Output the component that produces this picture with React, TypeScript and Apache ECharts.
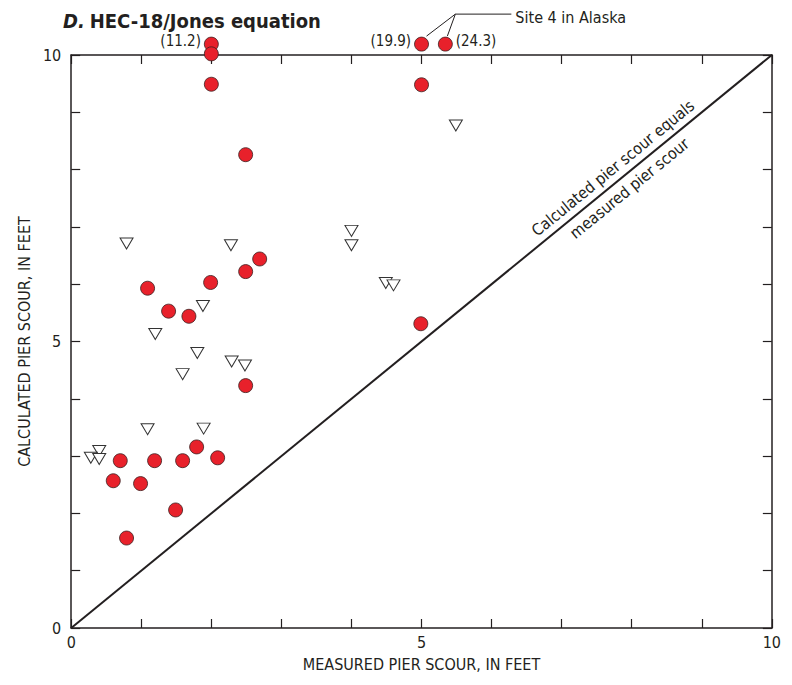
import React, { useEffect, useRef } from "react";
import * as echarts from "echarts";

// Red circles (measured, calculated); values above 10 drawn at the top edge
const circleX = [2.0, 2.0, 2.0, 5.0, 5.34, 5.0, 2.49, 1.09, 1.39, 1.68, 1.99, 2.49, 2.69, 2.49, 4.99, 0.7, 0.6, 0.99, 1.19, 1.59, 1.79, 2.09, 1.49, 0.79];
const circleY = [10.19, 10.02, 9.49, 10.19, 10.19, 9.48, 8.26, 5.93, 5.53, 5.44, 6.03, 6.22, 6.44, 4.23, 5.31, 2.92, 2.57, 2.52, 2.92, 2.92, 3.16, 2.97, 2.06, 1.57];
const circleLabels = ["(11.2)", "", "", "(19.9)", "(24.3)", "", "", "", "", "", "", "", "", "", "", "", "", "", "", "", "", "", "", ""];

// Open inverted triangles
const triX = [0.79, 2.28, 1.88, 1.2, 1.8, 2.29, 2.48, 1.59, 1.09, 1.89, 0.4, 0.28, 0.4, 4.0, 4.0, 4.49, 4.6, 5.49];
const triY = [6.71, 6.68, 5.62, 5.13, 4.8, 4.65, 4.58, 4.43, 3.47, 3.48, 3.09, 2.97, 2.95, 6.93, 6.68, 6.02, 5.98, 8.77];

const equalLine = [[0, 0], [10, 10]];
const axisTickLabels = [0, 5, 10];

const FONT = "'DejaVu Sans Condensed', 'Liberation Sans Narrow', 'Liberation Sans', sans-serif";
const TXT = "#231f20";

export default function App() {
  const ref = useRef<HTMLDivElement>(null);
  useEffect(() => {
    if (!ref.current) return;
    const chart = echarts.init(ref.current, undefined, { renderer: "svg" });
    const axisCommon = {
      type: "value",
      min: 0,
      max: 10,
      interval: 1,
      axisLine: { show: true, onZero: false, lineStyle: { color: TXT, width: 1.5 } },
      axisTick: { show: true, inside: true, length: 9, lineStyle: { color: TXT, width: 1.2 } },
      splitLine: { show: false },
    };
    const labelFmt = (v: number) => (axisTickLabels.indexOf(v) >= 0 ? String(v) : "");
    chart.setOption({
      animation: false,
      backgroundColor: "#ffffff",
      title: {
        text: "{d|D.} {t|HEC-18/Jones equation}",
        left: 55,
        top: 3,
        padding: 0,
        textStyle: {
          rich: {
            d: { fontFamily: FONT, fontSize: 20, lineHeight: 20, fontWeight: "bold", fontStyle: "italic", color: TXT },
            t: { fontFamily: FONT, fontSize: 20, lineHeight: 20, fontWeight: "bold", color: TXT },
          },
        },
      },
      grid: { left: 55, right: 1, top: 47, bottom: 41, containLabel: false },
      xAxis: [
        {
          ...axisCommon,
          position: "bottom",
          name: "MEASURED PIER SCOUR, IN FEET",
          nameLocation: "middle",
          nameGap: 28,
          nameTextStyle: { fontFamily: FONT, fontSize: 16, color: TXT },
          axisLabel: { formatter: labelFmt, fontFamily: FONT, fontSize: 16, color: TXT, margin: 6 },
        },
        {
          ...axisCommon,
          position: "top",
          axisLabel: { show: false },
        },
      ],
      yAxis: [
        {
          ...axisCommon,
          position: "left",
          name: "CALCULATED PIER SCOUR, IN FEET",
          nameLocation: "middle",
          nameGap: 32,
          nameTextStyle: { fontFamily: FONT, fontSize: 16, color: TXT },
          axisLabel: { formatter: labelFmt, fontFamily: FONT, fontSize: 16, color: TXT, margin: 10 },
        },
        {
          ...axisCommon,
          position: "right",
          axisLabel: { show: false },
        },
      ],
      series: [
        {
          type: "line",
          data: equalLine,
          symbol: "none",
          lineStyle: { color: TXT, width: 2 },
          silent: true,
          z: 1,
        },
        {
          type: "scatter",
          data: triX.map((x, i) => [x, triY[i]]),
          symbol: "triangle",
          symbolRotate: 180,
          symbolSize: [13, 11],
          itemStyle: { color: "#ffffff", borderColor: "#333333", borderWidth: 1, opacity: 1 },
          clip: false,
          z: 3,
        },
        {
          type: "scatter",
          data: circleX.map((x, i) => {
            const item: any = { value: [x, circleY[i]] };
            if (circleLabels[i]) {
              const isRight = i === 4;
              item.label = {
                show: true,
                formatter: circleLabels[i],
                position: isRight ? "right" : "left",
                distance: 3,
                offset: [0, -3],
                fontFamily: FONT,
                fontSize: 15,
                lineHeight: 15,
                color: TXT,
              };
            }
            return item;
          }),
          symbol: "circle",
          symbolSize: 14,
          itemStyle: { color: "#e8212b", borderColor: "#3a2020", borderWidth: 0.8, opacity: 1 },
          clip: false,
          z: 4,
        },
      ],
    });

    // annotations positioned via axis scales
    const pA = chart.convertToPixel({ gridIndex: 0 }, [circleX[3], circleY[3]]) as number[];
    const pB = chart.convertToPixel({ gridIndex: 0 }, [circleX[4], circleY[4]]) as number[];
    const junction = [pB[0] + 10, pB[1] - 30];
    const hEnd = [junction[0] + 56, junction[1]];

    const o = chart.convertToPixel({ gridIndex: 0 }, [0, 0]) as number[];
    const e = chart.convertToPixel({ gridIndex: 0 }, [10, 10]) as number[];
    const ang = Math.atan2(o[1] - e[1], e[0] - o[0]);
    const c = chart.convertToPixel({ gridIndex: 0 }, [7.85, 7.85]) as number[];
    const px = Math.sin(ang);
    const py = Math.cos(ang);
    const off = 13;

    chart.setOption({
      graphic: [
        {
          type: "polyline",
          shape: { points: [[pA[0] + 5, pA[1] - 8], junction, hEnd] },
          style: { stroke: TXT, lineWidth: 1, fill: "none" },
          silent: true,
        },
        {
          type: "line",
          shape: { x1: pB[0] + 2, y1: pB[1] - 8, x2: junction[0], y2: junction[1] },
          style: { stroke: TXT, lineWidth: 1 },
          silent: true,
        },
        {
          type: "text",
          x: hEnd[0] + 4,
          y: Math.max(hEnd[1] + 1, 9),
          style: { text: "Site 4 in Alaska", fontFamily: FONT, fontSize: 16, fill: TXT, textAlign: "left", textVerticalAlign: "middle" },
          silent: true,
        },
        {
          type: "text",
          x: c[0] - px * off,
          y: c[1] - py * off,
          rotation: ang,
          style: { text: "Calculated pier scour equals", fontFamily: FONT, fontSize: 16, fill: TXT, textAlign: "center", textVerticalAlign: "middle" },
          silent: true,
        },
        {
          type: "text",
          x: c[0] + px * off,
          y: c[1] + py * off,
          rotation: ang,
          style: { text: "measured pier scour", fontFamily: FONT, fontSize: 16, fill: TXT, textAlign: "center", textVerticalAlign: "middle" },
          silent: true,
        },
      ],
    });

    return () => chart.dispose();
  }, []);
  return <div ref={ref} style={{ width: 776, height: 669 }} />;
}
